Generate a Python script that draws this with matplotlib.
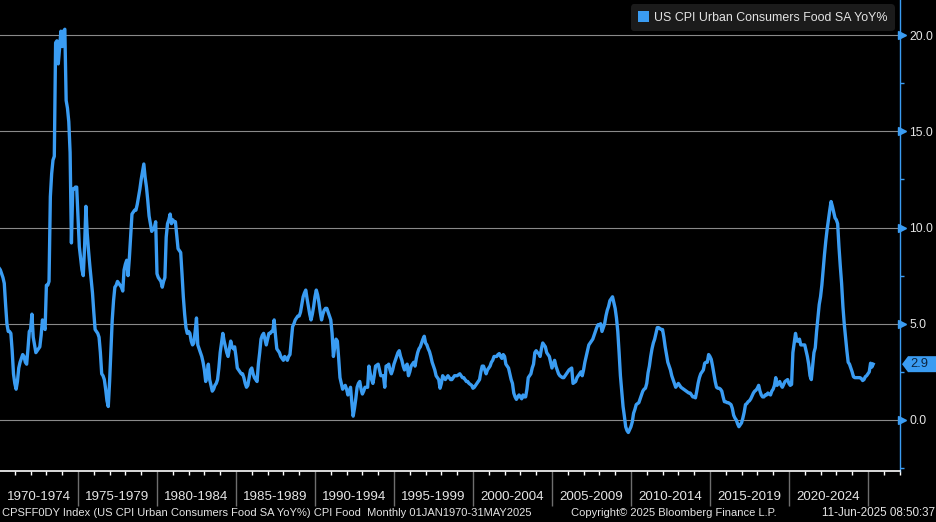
import numpy as np
import matplotlib.pyplot as plt
from matplotlib.patches import Patch, Polygon
from matplotlib.ticker import MultipleLocator, FixedLocator
from matplotlib.transforms import blended_transform_factory, ScaledTranslation

plt.rcParams["font.family"] = ["Liberation Sans", "DejaVu Sans"]

# US CPI Urban Consumers Food SA YoY%, monthly from Jan 1970
food_1970s = [
    7.9, 7.8, 7.6, 7.4, 7.1, 6.0, 5.0, 4.6, 4.6, 4.5, 3.6, 2.4,
    1.9, 1.6, 2.0, 2.7, 3.0, 3.2, 3.4, 3.3, 3.0, 2.9, 3.7, 4.6,
    4.7, 5.5, 4.3, 3.9, 3.5, 3.6, 3.7, 3.8, 4.4, 5.2, 4.9, 4.7,
    7.0, 7.0, 7.2, 11.6, 12.8, 13.5, 13.7, 19.6, 19.7, 18.5, 19.3, 20.2,
    19.4, 20.2, 20.3, 16.6, 16.2, 15.5, 13.9, 9.2, 12.0, 12.0, 12.1, 12.1,
    10.5, 9.0, 8.4, 7.8, 7.5, 9.0, 11.1, 9.7, 8.8, 8.0, 7.3, 6.6,
    5.6, 4.7, 4.6, 4.5, 4.3, 3.5, 2.4, 2.3, 2.1, 1.6, 1.0, 0.7,
    2.0, 3.6, 5.2, 6.2, 6.9, 7.0, 7.2, 7.1, 7.0, 6.9, 6.7, 7.8,
    8.1, 8.3, 7.5, 8.4, 9.6, 10.7, 10.8, 10.9, 10.9, 11.2, 11.6, 12.0,
    12.5, 12.9, 13.3, 12.6, 12.1, 11.4, 10.6, 10.2, 9.8, 9.9, 10.0, 10.3,
]
food_1980s = [
    7.6, 7.4, 7.3, 7.2, 6.9, 7.2, 7.4, 9.5, 10.2, 10.4, 10.7, 10.2,
    10.4, 10.3, 10.3, 9.6, 8.9, 8.8, 8.7, 7.6, 6.4, 5.5, 4.8, 4.5,
    4.6, 4.5, 4.1, 3.9, 4.0, 4.6, 5.3, 3.9, 3.7, 3.5, 3.3, 3.0,
    2.6, 2.0, 2.4, 2.9, 2.1, 1.8, 1.5, 1.6, 1.8, 1.9, 2.1, 2.7,
    3.5, 4.0, 4.5, 4.1, 3.8, 3.5, 3.3, 3.7, 4.1, 3.8, 3.7, 3.8,
    3.3, 2.7, 2.6, 2.5, 2.4, 2.4, 2.2, 1.9, 1.7, 1.8, 2.2, 2.6,
    2.7, 2.4, 2.2, 2.1, 2.0, 2.9, 3.5, 4.2, 4.4, 4.5, 4.2, 3.9,
    4.2, 4.5, 4.5, 4.6, 4.6, 5.2, 4.4, 3.7, 3.6, 3.5, 3.3, 3.2,
    3.1, 3.3, 3.2, 3.1, 3.3, 3.4, 4.1, 4.85, 5.0, 5.2, 5.3, 5.4,
    5.4, 5.6, 6.0, 6.4, 6.6, 6.75, 6.3, 5.9, 5.5, 5.2, 5.5, 5.9,
]
food_1990s = [
    6.4, 6.75, 6.5, 6.1, 5.6, 5.2, 5.5, 5.7, 5.8, 5.8, 5.6, 5.4,
    5.2, 4.5, 3.3, 3.8, 4.2, 4.1, 3.2, 2.2, 1.9, 1.6, 1.7, 1.8,
    1.6, 1.3, 1.5, 1.7, 0.9, 0.2, 0.6, 1.1, 1.7, 1.9, 2.0, 1.6,
    1.35, 1.5, 1.7, 1.7, 1.7, 2.8, 2.4, 2.1, 1.9, 2.3, 2.8, 2.85,
    2.9, 2.6, 2.3, 2.3, 2.3, 1.7, 2.8, 2.8, 2.9, 2.6, 2.4, 2.6,
    2.9, 3.1, 3.3, 3.5, 3.6, 3.3, 3.1, 2.8, 2.6, 2.8, 2.9, 2.3,
    2.5, 2.8, 2.9, 3.0, 2.8, 3.2, 3.5, 3.7, 3.8, 4.0, 4.2, 4.35,
    4.0, 3.9, 3.7, 3.55, 3.3, 3.0, 2.8, 2.6, 2.3, 2.2, 2.1, 1.65,
    1.9, 2.3, 2.2, 2.1, 2.2, 2.3, 2.2, 2.1, 2.1, 2.2, 2.3, 2.3,
    2.3, 2.35, 2.4, 2.3, 2.2, 2.2, 2.1, 2.0, 2.0, 1.9, 1.85, 1.8,
]
food_2000s = [
    1.65, 1.7, 1.8, 1.9, 2.0, 2.1, 2.5, 2.8, 2.8, 2.6, 2.4, 2.6,
    2.7, 2.8, 3.0, 3.1, 3.3, 3.3, 3.3, 3.4, 3.45, 3.3, 3.2, 3.4,
    3.3, 2.9, 2.8, 2.7, 2.4, 2.1, 1.9, 1.4, 1.2, 1.07, 1.2, 1.3,
    1.2, 1.1, 1.3, 1.2, 1.2, 1.6, 2.2, 2.3, 2.4, 2.7, 2.9, 3.5,
    3.6, 3.5, 3.45, 3.3, 3.7, 4.0, 3.9, 3.8, 3.5, 3.4, 3.3, 3.0,
    2.7, 2.9, 3.1, 2.8, 2.6, 2.4, 2.3, 2.25, 2.2, 2.2, 2.3, 2.4,
    2.5, 2.6, 2.65, 2.7, 1.9, 1.95, 2.0, 2.2, 2.3, 2.4, 2.5, 2.3,
    2.6, 3.0, 3.3, 3.6, 3.9, 4.0, 4.1, 4.2, 4.4, 4.6, 4.8, 4.95,
    4.95, 5.0, 4.6, 4.8, 5.0, 5.4, 5.7, 5.9, 6.2, 6.3, 6.4, 6.1,
    5.8, 5.3, 4.6, 3.5, 2.3, 1.5, 0.7, 0.2, -0.35, -0.55, -0.65, -0.5,
]
food_2010s = [
    -0.35, -0.1, 0.35, 0.55, 0.8, 0.85, 0.9, 1.1, 1.3, 1.5, 1.6, 1.65,
    1.9, 2.45, 2.8, 3.3, 3.7, 4.0, 4.2, 4.5, 4.8, 4.8, 4.75, 4.7,
    4.7, 4.3, 3.8, 3.4, 3.0, 2.8, 2.6, 2.3, 2.1, 1.9, 1.7, 1.8,
    1.9, 1.8, 1.7, 1.65, 1.6, 1.55, 1.5, 1.45, 1.4, 1.4, 1.3, 1.2,
    1.2, 1.15, 1.5, 1.9, 2.2, 2.4, 2.5, 2.6, 2.95, 3.0, 3.0, 3.4,
    3.3, 3.15, 2.8, 2.4, 2.0, 1.7, 1.65, 1.65, 1.6, 1.5, 1.2, 0.95,
    0.95, 0.9, 0.9, 0.85, 0.8, 0.6, 0.25, 0.1, 0.0, -0.2, -0.35, -0.25,
    -0.15, 0.1, 0.4, 0.8, 0.85, 0.95, 1.0, 1.1, 1.25, 1.4, 1.5, 1.55,
    1.65, 1.8, 1.5, 1.3, 1.2, 1.2, 1.3, 1.3, 1.4, 1.35, 1.3, 1.5,
    1.6, 1.8, 2.2, 1.8, 1.9, 2.0, 1.8, 1.7, 1.85, 2.0, 2.05, 2.1,
]
food_2020s = [
    1.9, 1.8, 1.85, 3.5, 4.0, 4.5, 4.1, 4.1, 4.2, 3.9, 3.9, 3.9,
    3.9, 3.6, 3.3, 2.9, 2.3, 2.1, 2.8, 3.5, 3.75, 4.6, 5.3, 6.0,
    6.4, 7.0, 7.8, 8.6, 9.3, 9.9, 10.4, 10.9, 11.35, 11.1, 10.8, 10.5,
    10.4, 10.2, 9.0, 8.0, 7.1, 5.9, 5.0, 4.3, 3.6, 3.0, 2.9, 2.7,
    2.5, 2.25, 2.2, 2.2, 2.2, 2.2, 2.2, 2.15, 2.05, 2.1, 2.25, 2.3,
    2.4, 2.5, 2.95, 2.75, 2.9,
]

yoy = np.array(food_1970s + food_1980s + food_1990s + food_2000s + food_2010s + food_2020s)
months = 1970 + np.arange(len(yoy)) / 12.0

y_ticks = [0, 5, 10, 15, 20]
period_starts = list(range(1970, 2025, 5))
legend_label = "US CPI Urban Consumers Food SA YoY%"
last_value = yoy[-1]

BLUE = "#3a9cf2"
TEXT = "#e4e4e4"
W, H = 937, 522

fig = plt.figure(figsize=(W / 100, H / 100), dpi=100, facecolor="black")
ax = fig.add_axes([0, 51 / H, 900 / W, 471 / H])
ax.set_facecolor("black")

ax.plot(months, yoy, color=BLUE, lw=2.4, solid_joinstyle="round", zorder=3)

ax.set_xlim(1970.063, 2027.03)
ax.set_ylim(-2.65, 21.82)

# right y axis
ax.yaxis.tick_right()
ax.set_yticks(y_ticks)
ax.set_yticklabels([f"{v:.1f}" for v in y_ticks])
ax.yaxis.set_minor_locator(MultipleLocator(2.5))
ax.tick_params(axis="y", which="major", length=0, pad=6.5, labelcolor=TEXT,
               labelsize=8.7)
ax.tick_params(axis="y", which="minor", length=3, width=1, color=BLUE, direction="out")
ax.grid(axis="y", which="major", color="#8a8a8a", lw=0.8, zorder=1)

tri = blended_transform_factory(ax.transAxes, ax.transData) + \
    ScaledTranslation(2.5 / 100, 0, fig.dpi_scale_trans)
ax.plot([1.0] * len(y_ticks), y_ticks, ls="none", marker=">", ms=5.5,
        color=BLUE, transform=tri, clip_on=False, zorder=4)

for side in ["left", "top"]:
    ax.spines[side].set_visible(False)
ax.spines["right"].set_color(BLUE)
ax.spines["right"].set_linewidth(1.0)
ax.spines["bottom"].set_color("white")
ax.spines["bottom"].set_linewidth(1.2)

# bottom axis: yearly ticks, 5-year separators and period labels
ax.xaxis.set_major_locator(FixedLocator(range(1975, 2030, 5)))
ax.xaxis.set_minor_locator(FixedLocator(range(1970, 2028)))
ax.tick_params(axis="x", which="major", length=25, width=1, color="#6e6e6e",
               labelbottom=False)
ax.tick_params(axis="x", which="minor", length=3, width=1, color="white")

for start in period_starts:
    ax.annotate(f"{start}-{start + 4}", xy=(start + 2.5, 0),
                xycoords=("data", "axes fraction"), xytext=(0, -18.5),
                textcoords="offset points", ha="center", va="center",
                color=TEXT, fontsize=9.6, annotation_clip=False)

# last value tag: arrow-shaped box hugging the right edge
tag = blended_transform_factory(fig.transFigure, ax.transData)
half = 8 / 19.25
ax.add_patch(Polygon([(902 / W, last_value), (908 / W, last_value + half),
                      (1.0, last_value + half), (1.0, last_value - half),
                      (908 / W, last_value - half)],
                     closed=True, fc=BLUE, ec="none", transform=tag,
                     clip_on=False, zorder=5))
ax.text(910 / W, last_value, f"{last_value:.1f}", transform=tag, ha="left",
        va="center", color="#0c2540", fontsize=9.3, zorder=6, clip_on=False)

leg = ax.legend([Patch(facecolor=BLUE, edgecolor="none")], [legend_label],
                loc="upper right", bbox_to_anchor=(895 / 900, 1 - 4 / 471),
                borderaxespad=0, frameon=True, facecolor="#1b1b1b",
                edgecolor="none", framealpha=1, handlelength=0.9,
                handleheight=0.9, handletextpad=0.4, borderpad=0.6,
                labelcolor=TEXT, prop={"size": 8.9})
leg.get_frame().set_boxstyle("round,pad=0,rounding_size=0.3")

# footer
fig.text(2 / W, 9 / H, "CPSFF0DY Index (US CPI Urban Consumers Food SA YoY%) CPI Food  "
         "Monthly 01JAN1970-31MAY2025", color=TEXT, fontsize=8, va="center")
fig.text(571 / W, 9 / H, "Copyright\u00a9 2025 Bloomberg Finance L.P.",
         color=TEXT, fontsize=8, va="center")
fig.text(935 / W, 9 / H, "11-Jun-2025 08:50:37", color=TEXT, fontsize=8.4,
         va="center", ha="right")

fig.savefig("out.png", dpi=100, facecolor="black")
